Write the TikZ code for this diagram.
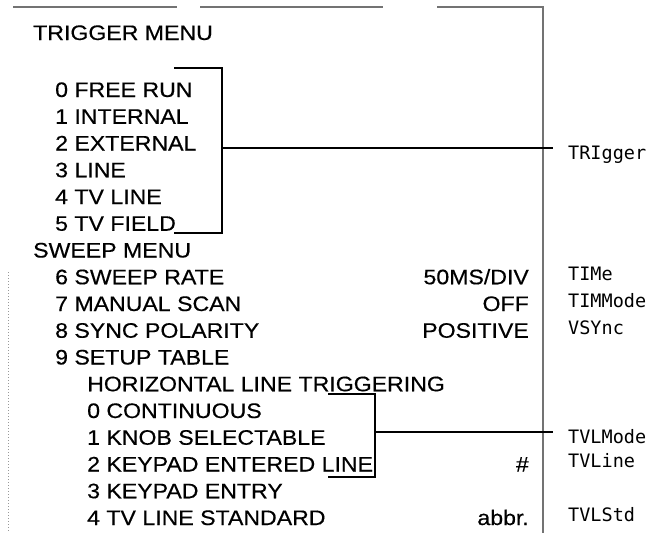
\documentclass[tikz,border=0pt]{standalone}
\usepackage{fontspec}
\setmainfont[FakeStretch=1.1,FakeBold=0.4]{Liberation Sans}
\newfontfamily\cmdfont{DejaVu Sans Mono}
\begin{document}
\begin{tikzpicture}[x=1pt,y=-1pt]
        % Define styles for menu lines, values, commands and brackets
        \tikzstyle{menu} = [anchor=base west, inner sep=0pt, font=\fontsize{21}{25}\selectfont]
        \tikzstyle{value} = [anchor=base east, inner sep=0pt, font=\fontsize{21}{25}\selectfont]
        \tikzstyle{cmd} = [anchor=base west, inner sep=0pt, font=\cmdfont\fontsize{18.5}{22}\selectfont]
        \tikzstyle{bracket} = [line width=1.3pt, black]
        \tikzstyle{frame} = [line width=1.6pt, black!55]
        \useasboundingbox (0,0) rectangle (651,533);

        % Frame
        \draw [frame] (13,7) -- (177,7);
        \draw [frame] (200,7) -- (383,7);
        \draw [frame] (437,7) -- (543,7) -- (543,533);
        \draw [dotted, line width=1pt, black!40] (8,272) -- (8,533);

        % Trigger menu
        \node (tmenu) [menu] at (33,40) {TRIGGER MENU};
        \node (free) [menu] at (55,97) {0 FREE RUN};
        \node (internal) [menu] at (55,123.75) {1 INTERNAL};
        \node (external) [menu] at (55,150.5) {2 EXTERNAL};
        \node (line) [menu] at (55,177.25) {3 LINE};
        \node (tvline) [menu] at (55,204) {4 TV LINE};
        \node (tvfield) [menu] at (55,230.75) {5 TV FIELD};

        % Sweep menu
        \node (smenu) [menu] at (33,257.5) {SWEEP MENU};
        \node (rate) [menu] at (55,284.25) {6 SWEEP RATE};
        \node (scan) [menu] at (55,311) {7 MANUAL SCAN};
        \node (sync) [menu] at (55,337.75) {8 SYNC POLARITY};
        \node (setup) [menu] at (55,364.5) {9 SETUP TABLE};
        \node (horiz) [menu] at (87,391.25) {HORIZONTAL LINE TRIGGERING};
        \node (cont) [menu] at (87,418) {0 CONTINUOUS};
        \node (knob) [menu] at (87,444.75) {1 KNOB SELECTABLE};
        \node (keyline) [menu] at (87,471.5) {2 KEYPAD ENTERED LINE};
        \node (keyentry) [menu] at (87,498.25) {3 KEYPAD ENTRY};
        \node (standard) [menu] at (87,525) {4 TV LINE STANDARD};

        % Values
        \node (rateval) [value] at (529,284.25) {50MS/DIV};
        \node (scanval) [value] at (529,311) {OFF};
        \node (syncval) [value] at (529,337.75) {POSITIVE};
        \node (lineval) [value] at (529,471.5) {\#};
        \node (stdval) [value] at (529,525) {abbr.};

        % Commands
        \node (trig) [cmd] at (568,159) {TRIgger};
        \node (time) [cmd] at (568,280) {TIMe};
        \node (timmode) [cmd] at (568,307) {TIMMode};
        \node (vsync) [cmd] at (568,334) {VSYnc};
        \node (tvlmode) [cmd] at (568,443) {TVLMode};
        \node (tvlcmd) [cmd] at (568,467.5) {TVLine};
        \node (tvlstd) [cmd] at (568,521) {TVLStd};

        % Brackets
        \coordinate (ta) at (174,68);
        \coordinate (tb) at (222,68);
        \coordinate (tc) at (222,233);
        \coordinate (td) at (174,233);
        \coordinate (tm) at (222,148);
        \draw [bracket] (ta) -- (tb) -- (tc) -- (td);
        \draw [bracket] (tm) -- ([xshift=-15pt]trig.west |- tm);

        \coordinate (ha) at (328,394);
        \coordinate (hb) at (375,394);
        \coordinate (hc) at (375,477);
        \coordinate (hd) at (328,477);
        \coordinate (hm) at (375,432);
        \draw [bracket] (ha) -- (hb) -- (hc) -- (hd);
        \draw [bracket] (hm) -- ([xshift=-15pt]tvlmode.west |- hm);
\end{tikzpicture}
\end{document}
